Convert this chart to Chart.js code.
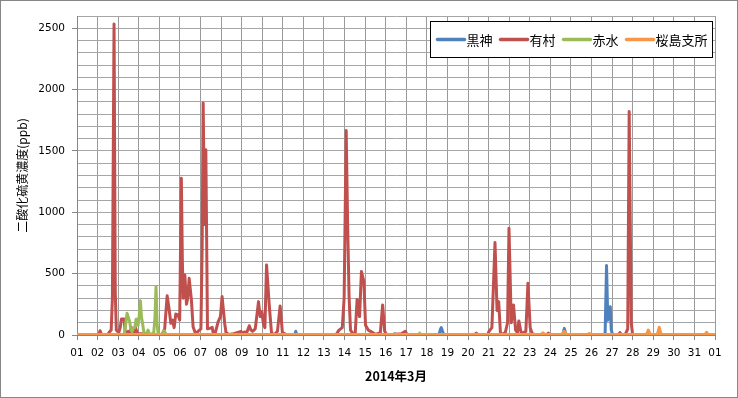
<!DOCTYPE html>
<html>
<head>
<meta charset="utf-8">
<script src="https://cdn.jsdelivr.net/npm/chart.js@4"></script>
<style>
  html, body { margin: 0; padding: 0; background: #fff; }
  #wrap { width: 738px; height: 398px; }
</style>
</head>
<body>
<div id="wrap"><canvas id="so2Chart" width="738" height="398"></canvas></div>
<script>
// 2014年3月 二酸化硫黄濃度 (ppb)  x = 日 (小数は時刻)
const seriesNames = ['黒神', '有村', '赤水', '桜島支所'];
const dayLabels = ['01','02','03','04','05','06','07','08','09','10','11','12','13','14','15','16',
  '17','18','19','20','21','22','23','24','25','26','27','28','29','30','31','01'];
const yLabelValues = [0, 500, 1000, 1500, 2000, 2500];

const kurokami = [[1,0],[11.58,0],[11.63,30],[11.68,0],[16.35,0],[16.44,10],[16.55,0],
  [18.58,0],[18.66,45],[18.70,60],[18.76,30],[18.83,0],[24.6,0],[24.68,54],[24.76,0],
  [26.66,0],[26.73,566],[26.79,120],[26.83,150],[26.91,231],[26.96,40],[27.03,0],[32,0]];

const arimura = [[1,0],[2.06,0],[2.12,35],[2.2,0],[2.5,5],[2.59,27],[2.66,40],[2.72,300],
  [2.80,2534],[2.86,350],[2.91,40],[3.03,20],[3.1,60],[3.16,130],[3.29,130],[3.35,10],
  [3.48,30],[3.56,20],[3.64,62],[3.72,40],[3.78,25],[3.84,62],[3.94,10],[4.2,10],[4.5,5],
  [5.1,5],[5.18,20],[5.26,50],[5.38,320],[5.47,218],[5.56,95],[5.64,122],[5.72,60],
  [5.80,171],[5.91,163],[5.99,122],[6.07,1278],[6.12,600],[6.16,300],[6.24,490],[6.32,250],
  [6.38,300],[6.45,462],[6.56,285],[6.64,68],[6.76,10],[6.88,30],[7.02,50],[7.08,700],
  [7.13,1890],[7.2,900],[7.26,1510],[7.34,50],[7.45,54],[7.57,62],[7.63,5],[7.70,5],
  [7.86,109],[7.97,150],[8.05,313],[8.18,90],[8.24,20],[8.42,0],[8.97,30],[9.05,10],
  [9.13,25],[9.25,20],[9.37,76],[9.45,40],[9.53,30],[9.66,50],[9.82,272],[9.90,150],
  [9.98,190],[10.06,90],[10.13,60],[10.21,571],[10.34,245],[10.45,20],[10.58,0],
  [10.74,30],[10.87,237],[10.98,20],[11.15,5],[12,5],[13.6,5],[13.73,40],[13.89,60],
  [13.98,300],[14.08,1667],[14.15,900],[14.22,313],[14.29,40],[14.45,0],[14.52,20],
  [14.61,290],[14.67,200],[14.73,150],[14.82,517],[14.94,435],[15.02,80],[15.15,40],
  [15.26,30],[15.5,5],[15.74,20],[15.85,245],[15.95,30],[16.05,0],[16.76,10],[16.95,30],
  [17.05,0],[20.3,0],[20.4,15],[20.5,0],[20.95,0],[21.02,30],[21.16,60],[21.31,753],
  [21.41,200],[21.49,272],[21.58,0],[21.81,20],[21.92,100],[21.99,870],[22.10,100],
  [22.21,245],[22.31,40],[22.4,20],[22.47,114],[22.59,10],[22.81,30],[22.91,421],
  [23.02,60],[23.12,10],[23.3,0],[23.8,0],[23.9,15],[24.0,0],[27.3,0],[27.38,20],
  [27.45,0],[27.6,0],[27.67,15],[27.76,50],[27.83,1822],[27.93,100],[28.0,0],[32,0]];

const akamizu = [[1,0],[3.3,0],[3.43,177],[3.5,140],[3.56,109],[3.62,40],[3.68,30],
  [3.75,60],[3.81,60],[3.87,128],[3.92,128],[3.97,80],[4.02,150],[4.08,280],[4.13,150],
  [4.18,100],[4.26,10],[4.38,10],[4.45,40],[4.52,10],[4.58,0],[4.73,20],[4.79,150],
  [4.84,394],[4.89,100],[4.94,10],[5.1,0],[5.23,35],[5.35,0],[8.42,0],[8.5,10],[8.6,0],
  [17.6,0],[17.65,15],[17.7,0],[23.6,0],[23.65,10],[23.7,0],[28.7,0],[28.78,20],
  [28.85,0],[29.25,0],[29.3,25],[29.35,0],[32,0]];

const sakurajima = [[1,5],[23.55,5],[23.64,18],[23.73,5],[24.55,5],[24.68,30],[24.8,5],
  [25.82,5],[25.89,12],[25.96,5],[28.68,5],[28.76,40],[28.85,5],[29.2,5],[29.29,63],
  [29.38,5],[31.52,5],[31.59,22],[31.66,5],[32,5]];

const seriesColors = ['#4F81BD', '#C0504D', '#9BBB59', '#F79646'];
const seriesData = [kurokami, arimura, akamizu, sakurajima];

const toXY = pts => pts.map(p => ({ x: p[0], y: p[1] }));

// 凡例 (枠付き) と外枠
const boxLegend = {
  id: 'boxLegend',
  afterDraw(chart) {
    const c = chart.ctx;
    c.save();
    c.strokeStyle = '#868686';
    c.lineWidth = 1;
    c.strokeRect(0.5, 0.5, chart.width - 1, chart.height - 1);

    const left = 430.5, top = 21.5, w = 282, h = 36;
    c.fillStyle = '#fff';
    c.fillRect(left, top, w, h);
    c.strokeStyle = '#000';
    c.strokeRect(left, top, w, h);

    c.font = '13px "Noto Sans CJK JP"';
    c.textBaseline = 'middle';
    let x = left + 7;
    const cy = top + h / 2;
    chart.data.datasets.forEach(ds => {
      c.strokeStyle = ds.borderColor;
      c.lineWidth = 3.5;
      c.lineCap = 'round';
      c.beginPath();
      c.moveTo(x, cy);
      c.lineTo(x + 27, cy);
      c.stroke();
      x += 29;
      c.fillStyle = '#000';
      c.fillText(ds.label, x, cy + 1);
      x += c.measureText(ds.label).width + 8;
    });
    c.restore();
  }
};

const ctx = document.getElementById('so2Chart').getContext('2d');
const so2Chart = new Chart(ctx, {
  type: 'line',
  data: {
    datasets: seriesNames.map((name, i) => ({
      label: name,
      data: toXY(seriesData[i]),
      borderColor: seriesColors[i],
      backgroundColor: seriesColors[i],
      borderWidth: 3,
      borderJoinStyle: 'round',
      borderCapStyle: 'round',
      fill: false,
      pointRadius: 0,
      tension: 0,
      order: 4 - i
    }))
  },
  options: {
    responsive: false,
    animation: false,
    layout: { padding: { top: 16, right: 23, left: 0, bottom: 0 } },
    plugins: {
      legend: { display: false },
      tooltip: { enabled: false }
    },
    scales: {
      x: {
        type: 'linear',
        min: 1,
        max: 32,
        afterFit: s => { s.height = 63; },
        border: { color: '#868686' },
        grid: { color: '#9a9a9a', tickLength: 5, tickColor: '#868686' },
        ticks: {
          stepSize: 1,
          autoSkip: false,
          maxRotation: 0,
          padding: 7,
          color: '#000',
          font: { family: 'DejaVu Sans', size: 10.5 },
          callback: v => dayLabels[v - 1]
        },
        title: {
          display: true,
          text: '2014年3月',
          color: '#000',
          font: { family: '"Noto Sans CJK JP"', size: 12.5, weight: 'bold' },
          padding: { top: 0, bottom: 14 }
        }
      },
      y: {
        min: 0,
        max: 2600,
        afterFit: s => { s.width = 77; },
        border: { color: '#868686' },
        grid: {
          color: '#a6a6a6',
          tickLength: 5,
          tickColor: c => (c.tick && yLabelValues.includes(c.tick.value)) ? '#868686' : 'rgba(0,0,0,0)'
        },
        ticks: {
          stepSize: 100,
          autoSkip: false,
          padding: 7,
          color: '#000',
          font: { family: 'DejaVu Sans', size: 10.5 },
          callback: v => yLabelValues.includes(v) ? String(v) : ''
        },
        title: {
          display: true,
          text: '二酸化硫黄濃度(ppb)',
          color: '#000',
          font: { family: '"Noto Sans CJK JP"', size: 12 },
          padding: { top: 15, bottom: 0 }
        }
      }
    }
  },
  plugins: [boxLegend]
});
</script>
</body>
</html>
